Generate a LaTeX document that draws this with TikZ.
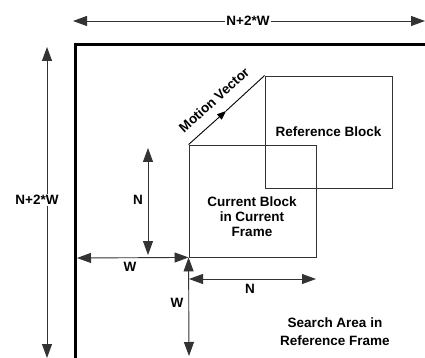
\documentclass[tikz,border=0pt]{standalone}
\usepackage{fontspec}
\setmainfont{Liberation Sans}
\usetikzlibrary{arrows.meta}

\tikzset{
  dim/.style={draw=black!80, line width=0.9pt,
    {Triangle[length=14pt,width=10pt]}-{Triangle[length=14pt,width=10pt]}},
  lbl/.style={font=\bfseries\fontsize{13.5}{15}\selectfont, inner sep=1pt, align=center},
  blk/.style={draw=black!80, line width=0.9pt, inner sep=0pt},
}

\begin{document}
\begin{tikzpicture}[x=1pt,y=-1pt]
\useasboundingbox (0,0) rectangle (425,358);

% search area frame
\draw[line width=3pt] (75,358) -- (75,45) -- (425,45);

% overall size of the search area
\coordinate (topL) at (73,21);
\coordinate (topR) at (425,21);
\coordinate (sideT) at (47,47);
\coordinate (sideB) at (47,358);
\draw[dim] (topL) -- (topR);
\draw[dim] (sideT) -- (sideB);
\node[lbl, fill=white] (topsize) at (248,21) {N+2*W};
\node[lbl, fill=white] (sidesize) at (37,200) {N+2*W};

% blocks
\node[blk, minimum width=127pt, minimum height=112pt] (cur) at (252.5,201) {};
\node[blk, minimum width=127pt, minimum height=112pt, lbl] (ref) at (328.5,132) {Reference Block};
\node[lbl] (curtxt) at (252,217) {Current Block\\in Current\\Frame};

% motion vector
\coordinate (mvmid) at (226,111);
\draw[black, line width=0.9pt, -{Triangle[length=9pt,width=7pt]}] (cur.north west) -- (mvmid);
\draw[black, line width=0.9pt] (mvmid) -- (ref.north west);
\node[lbl, rotate=42.2] (mvtxt) at (214,100) {Motion Vector};

% block and window sizes
\coordinate (nT) at (148,148);
\coordinate (nB) at (148,255);
\draw[dim] (nT) -- (nB);
\node[lbl] (nlbl) at (138,200) {N};

\coordinate (wL) at (77,258);
\draw[dim] (wL) -- (cur.south west);
\node[lbl] (wlbl) at (130,267) {W};

\coordinate (wB) at (189,356);
\draw[dim] (cur.south west) -- (wB);
\node[lbl] (wlbl2) at (177,303) {W};

\coordinate (nL) at (189,279);
\coordinate (nR) at (316,279);
\draw[dim] (nL) -- (nR);
\node[lbl] (nlbl2) at (250,289) {N};

\node[lbl, font=\bfseries\fontsize{13.5}{18}\selectfont] (search) at (335,332) {Search Area in\\Reference Frame};
\end{tikzpicture}
\end{document}
